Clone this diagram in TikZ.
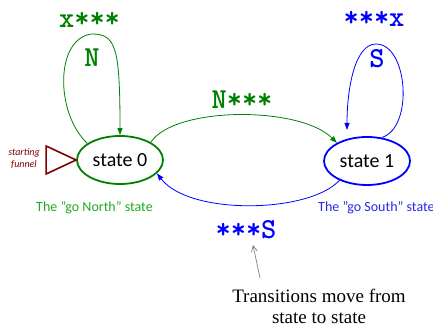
\documentclass[tikz,border=0pt]{standalone}
\usepackage{fontspec}
\setmainfont{Carlito}
\newfontfamily\notefont{Liberation Serif}
\usetikzlibrary{arrows.meta,shapes.geometric}
\definecolor{dgreen}{RGB}{0,128,0}
\definecolor{lgreen}{RGB}{34,170,34}
\definecolor{sblue}{RGB}{0,0,255}
\definecolor{lblue}{RGB}{40,40,235}
\definecolor{dred}{RGB}{128,0,0}
\begin{document}
\begin{tikzpicture}[x=1pt,y=1pt,
  state/.style={ellipse,draw,line width=1.8pt,minimum width=86pt,minimum height=48pt,inner sep=0pt,font=\fontsize{20}{20}\selectfont},
  sym/.style={font=\ttfamily\bfseries\fontsize{29}{29}\selectfont,inner sep=0pt},
  trans/.style={line width=0.8pt,-{Triangle[length=7pt,width=5pt]}},
  caption/.style={font=\fontsize{14}{14}\selectfont,inner sep=0pt}]
\useasboundingbox (0,0) rectangle (433,328);
% states
\node[state,draw=dgreen] (s0) at (120,168) {state 0};
\node[state,draw=sblue] (s1) at (367,167) {state 1};
% transition labels
\node[sym,text=dgreen] (l0a) at (89.5,308) {x***};
\node[sym,text=dgreen] (l0b) at (92,270) {N};
\node[sym,text=dgreen] (l01) at (242,228) {N***};
\node[sym,text=sblue] (l1a) at (374,309) {***x};
\node[sym,text=sblue] (l1b) at (377,269) {S};
\node[sym,text=sblue] (l10) at (246,98) {***S};
% captions
\node[caption,text=lgreen] (n0) at (94.5,120) {The "go North" state};
\node[caption,text=lblue,anchor=west] (n1) at (318,120) {The "go South" state};
\node[font=\itshape\fontsize{10}{12}\selectfont,text=dred,align=center,inner sep=0pt] (sf) at (24,169) {starting\\funnel};
\node[font=\notefont\fontsize{19}{21}\selectfont,align=center,inner sep=0pt] (ann) at (319,21.5) {Transitions move from\\state to state};
% starting funnel
\draw[dred,line width=1.6pt,line join=miter] (s0.west) -- ++(-30,14) -- ++(0,-28) -- cycle;
% loops
\draw[trans,dgreen] (s0.153) .. controls (55,215) and (55,290) .. (92,294) .. controls (116,294) and (120,280) .. (s0.north);
\coordinate (e1) at (347,198);
\draw[trans,sblue] (s1.58) .. controls (414,200) and (408,284) .. (376,284) .. controls (355,284) and (347,240) .. (e1);
% transitions
\draw[trans,dgreen] (s0.30) .. controls (175,222) and (300,222) .. (s1.149);
\draw[trans,sblue] (s1.215) .. controls (310,115) and (190,112) .. (s0.-20);
% annotation arrow
\coordinate (gs) at (260,50);
\coordinate (ge) at (253,83);
\draw[gray,line width=0.7pt,-{Straight Barb[length=6pt,width=6pt]}] (gs) -- (ge);
\end{tikzpicture}
\end{document}
